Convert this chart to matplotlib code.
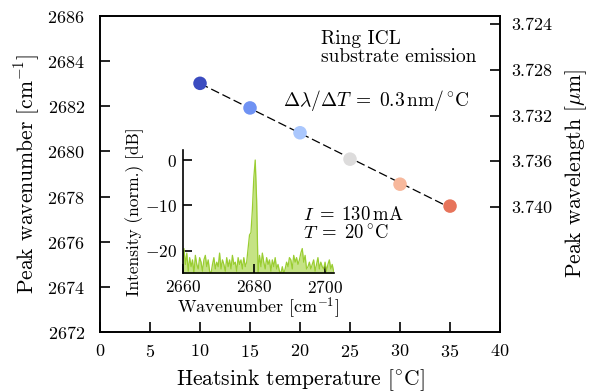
import matplotlib
matplotlib.use("Agg")
import matplotlib.pyplot as plt
import numpy as np

plt.rcParams.update({
    "font.family": ["cmr10", "DejaVu Serif"],
    "mathtext.fontset": "cm",
    "axes.formatter.use_mathtext": True,
    "axes.unicode_minus": True,
    "font.size": 12,
    "axes.linewidth": 1.2,
    "xtick.direction": "in",
    "ytick.direction": "in",
    "xtick.major.width": 1.2,
    "ytick.major.width": 1.2,
    "xtick.major.size": 7,
    "ytick.major.size": 7,
})

# main data: peak position vs heatsink temperature
temps = [10, 15, 20, 25, 30, 35]
peak_wn = [2683.02, 2681.93, 2680.83, 2679.66, 2678.55, 2677.58]

# inset spectrum at I = 130 mA, T = 20 C
spec_wn_start, spec_wn_stop = 2660.0, 2702.4
spec_db = [
    -24, -19.5, -23, -20.5, -24.5, -21.5, -23.5, -22, -25, -21,
    -23, -24, -21.5, -22.5, -24.5, -22, -21, -23.5, -22, -24.5,
    -25, -23, -21.5, -24, -22.5, -23.5, -20.5, -24, -22, -23,
    -24.5, -21.5, -23.5, -22, -24, -21, -23, -22.5, -24.5, -21.5,
    -23, -22, -24, -21.5, -23.5, -22.5, -19.5, -16.5, -16, -11,
    -4, 0, -9, -25, -21, -23.5, -20.5, -22.5, -24, -21.5,
    -23, -22, -24.5, -22, -23.5, -21.5, -24, -23, -24.5, -25,
    -23.5, -25, -24, -22.5, -23.5, -21.5, -22, -24, -21, -22.5,
    -21.5, -23, -22, -20.5, -19.5, -22.5, -21, -24, -23.5, -22.5,
    -24, -23, -22, -24.5, -23, -21.5, -24, -22.5, -23.5, -24,
    -22.5, -24.5, -23, -22, -24, -23, -24.5,
]
spec_wn = np.linspace(spec_wn_start, spec_wn_stop, len(spec_db))

fig = plt.figure(figsize=(6.01, 3.92), dpi=100)
ax = fig.add_axes([0.1664, 0.153, 0.6656, 0.806])

# linear fit as dashed guide
p = np.polyfit(temps, peak_wn, 1)
tfit = np.array([temps[0], temps[-1]])
ax.plot(tfit, np.polyval(p, tfit), color="k", lw=0.9, ls=(0, (7, 3)), zorder=2)

colors = plt.cm.coolwarm(np.arange(len(temps)) / len(temps))
ax.scatter(temps, peak_wn, s=95, c=colors, edgecolors="none", zorder=3)

ax.set_xlim(0, 40)
ax.set_ylim(2672, 2686)
ax.set_xticks(np.arange(0, 41, 5))
ax.set_yticks(np.arange(2672, 2687, 2))
ax.tick_params(axis="y", labelsize=13, pad=11)
ax.tick_params(axis="x", labelsize=13, pad=8)
ax.set_xlabel(r"Heatsink temperature [$^{\circ}$C]", fontsize=15.5, labelpad=5)
ax.set_ylabel(r"Peak wavenumber [cm$^{-1}$]", fontsize=15.5, labelpad=4)

ax2 = ax.twinx()
ax2.set_ylim(3.75093, 3.7233)
ax2.set_yticks([3.724, 3.728, 3.732, 3.736, 3.740])
ax2.set_yticklabels(["3.724", "3.728", "3.732", "3.736", "3.740"])
ax2.tick_params(labelsize=13, pad=8)
ax2.set_ylabel(r"Peak wavelength [$\mu$m]", fontsize=15.5, labelpad=8)

ax.text(0.552, 0.955, "Ring ICL\nsubstrate emission", transform=ax.transAxes,
        fontsize=14, va="top", ha="left", linespacing=0.95)
ax.text(0.4575, 0.734,
        r"$\Delta\lambda/\Delta T \;=\; 0.3\,\mathrm{nm}/^{\circ}\mathrm{C}$",
        transform=ax.transAxes, fontsize=14, ha="left", va="center")
ax.text(0.5075, 0.342,
        "$I \\;=\\; 130\\,\\mathrm{mA}$\n$T \\;=\\; 20\\,^{\\circ}\\mathrm{C}$",
        transform=ax.transAxes, fontsize=13.5, ha="left", va="center", linespacing=1.0)

# inset
ins = fig.add_axes([0.3037, 0.3023, 0.252, 0.315])
ins.fill_between(spec_wn, -30, spec_db, color="#c5e384", lw=0)
ins.plot(spec_wn, spec_db, color="#9acd32", lw=0.9)
ins.set_xlim(2660, 2702.5)
ins.set_ylim(-25, 2.2)
ins.set_xticks([2660, 2680, 2700])
ins.set_yticks([0, -10, -20])
ins.spines["top"].set_visible(False)
ins.spines["right"].set_visible(False)
ins.patch.set_alpha(0)
ins.tick_params(labelsize=12.5, length=6.5, pad=4)
ins.set_xlabel(r"Wavenumber [cm$^{-1}$]", fontsize=13, labelpad=0)
ins.set_ylabel("Intensity (norm.) [dB]", fontsize=12.5, labelpad=1)

fig.savefig("out.png", dpi=100)
